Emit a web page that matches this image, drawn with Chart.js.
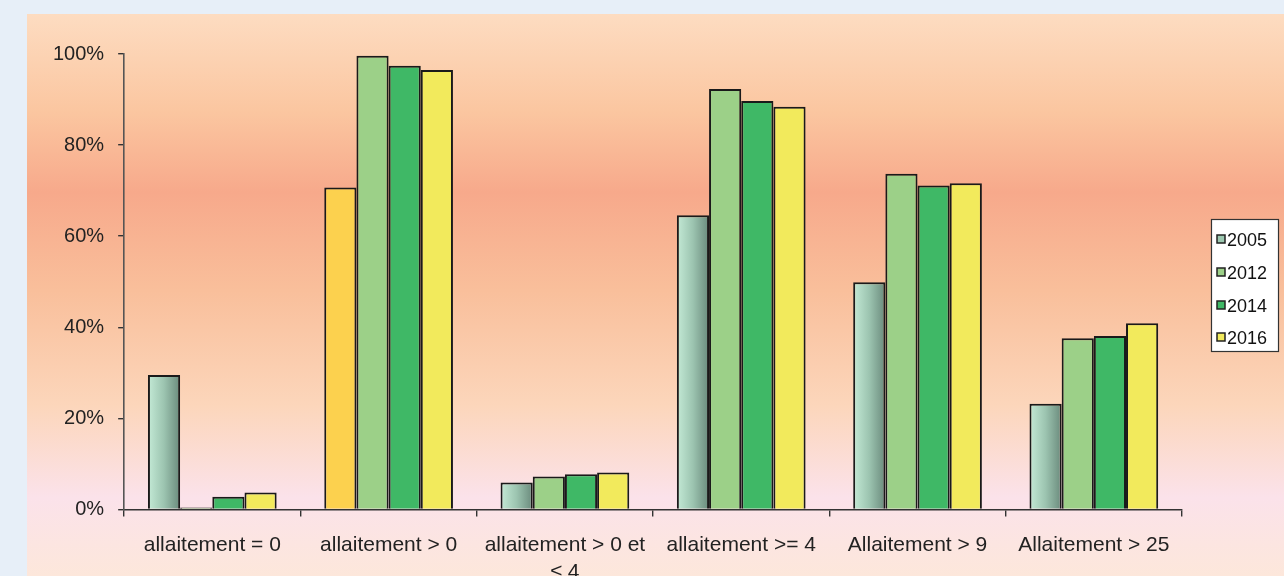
<!DOCTYPE html>
<html>
<head>
<meta charset="utf-8">
<script src="https://cdn.jsdelivr.net/npm/chart.js@4/dist/chart.umd.min.js"></script>
<style>
  html, body { margin: 0; padding: 0; overflow: hidden; background: #e7eff8; }
  #wrap { width: 1284px; height: 604px; }
</style>
</head>
<body>
<div id="wrap"><canvas id="myChart" width="1284" height="604"></canvas></div>
<script>
const categories = [
  'allaitement = 0', 'allaitement > 0', ['allaitement > 0 et', '≤ 4'],
  'allaitement >= 4', 'Allaitement > 9', 'Allaitement > 25'
];
const years = ['2005', '2012', '2014', '2016'];
const v2005 = [29.5, 70.7, 5.9, 64.6, 49.9, 23.2];
const v2012 = [0.4, 99.6, 7.2, 92.3, 73.7, 37.6];
const v2014 = [2.8, 97.4, 7.7, 89.7, 71.1, 38.1];
const v2016 = [3.7, 96.5, 8.1, 88.4, 71.6, 40.9];
const yTicks = [0, 20, 40, 60, 80, 100];

const colors = ['#9cc8b0', '#9cd088', '#3fb866', '#f2ea5c'];
const catPct = 0.73;

// barre 2005 : dégradé clair -> foncé (sauf la barre orange)
function fill2005(c) {
  if (c.type !== 'data') return colors[0];
  if (c.dataIndex === 1) return '#fcd14e';
  const xs = c.chart.scales.x;
  if (!xs || xs.right === undefined) return colors[0];
  const cw = (xs.right - xs.left) / categories.length;
  const bw = cw * catPct / years.length;
  const left = xs.getPixelForValue(c.dataIndex) - 2 * bw;
  const g = c.chart.ctx.createLinearGradient(left, 0, left + bw, 0);
  g.addColorStop(0, '#c4ead6');
  g.addColorStop(0.5, '#9cc4b0');
  g.addColorStop(1, '#6a8a7c');
  return g;
}

const panelBg = {
  id: 'panelBg',
  beforeDraw(chart) {
    const ctx = chart.ctx;
    ctx.save();
    ctx.fillStyle = '#e7eff8';
    ctx.fillRect(0, 0, chart.width, chart.height);
    const g = ctx.createLinearGradient(0, 14, 0, 590);
    g.addColorStop(0, '#fddcc1');
    g.addColorStop(0.17, '#fbc6a0');
    g.addColorStop(0.31, '#f7a98b');
    g.addColorStop(0.48, '#f9bf9b');
    g.addColorStop(0.68, '#fcd6bb');
    g.addColorStop(0.84, '#fbe2ea');
    g.addColorStop(1, '#fde8d8');
    ctx.fillStyle = g;
    ctx.fillRect(27, 14, chart.width - 27, chart.height - 14);
    ctx.restore();
  }
};

const boxLegend = {
  id: 'boxLegend',
  afterDraw(chart) {
    const ctx = chart.ctx;
    ctx.save();
    ctx.fillStyle = '#ffffff';
    ctx.fillRect(1211, 219, 68, 133);
    ctx.strokeStyle = '#333';
    ctx.lineWidth = 1.2;
    ctx.strokeRect(1211.5, 219.5, 67, 132);
    ctx.font = '18px "Liberation Sans", Arial, sans-serif';
    ctx.textBaseline = 'middle';
    const ys = [240, 273, 306, 338];
    years.forEach((y, i) => {
      ctx.fillStyle = colors[i];
      ctx.fillRect(1217, ys[i] - 5, 8, 8);
      ctx.strokeStyle = '#222';
      ctx.lineWidth = 1.5;
      ctx.strokeRect(1217, ys[i] - 5, 8, 8);
      ctx.fillStyle = '#111';
      ctx.fillText(y, 1227, ys[i] + 1);
    });
    ctx.restore();
  }
};

const series = [v2005, v2012, v2014, v2016];
const datasets = series.map((vals, i) => ({
  label: years[i],
  data: vals,
  backgroundColor: i === 0 ? fill2005 : colors[i],
  borderColor: '#1a1a1a',
  borderWidth: 2,
  borderSkipped: 'bottom',
  barPercentage: 1,
  categoryPercentage: catPct
}));

new Chart(document.getElementById('myChart'), {
  type: 'bar',
  data: { labels: categories, datasets: datasets },
  options: {
    responsive: false,
    animation: false,
    layout: { padding: { left: 39, right: 102, top: 54, bottom: 3 } },
    plugins: { legend: { display: false }, tooltip: { enabled: false } },
    scales: {
      x: {
        offset: true,
        grid: { drawOnChartArea: false, offset: true, tickLength: 7, color: '#333', lineWidth: 1.4 },
        border: { color: '#333', width: 1.6 },
        ticks: {
          color: '#222', padding: 15, maxRotation: 0, autoSkip: false,
          font: { family: '"Liberation Sans", Arial, sans-serif', size: 21, lineHeight: 1.3 }
        }
      },
      y: {
        min: 0, max: 100,
        afterBuildTicks(axis) { axis.ticks = yTicks.map(v => ({ value: v })); },
        grid: { drawOnChartArea: false, tickLength: 6, color: '#333', lineWidth: 1.4 },
        border: { color: '#555', width: 1.6 },
        ticks: {
          color: '#222', padding: 14,
          font: { family: '"Liberation Sans", Arial, sans-serif', size: 20 },
          callback: v => v + '%'
        }
      }
    }
  },
  plugins: [panelBg, boxLegend]
});
</script>
</body>
</html>
